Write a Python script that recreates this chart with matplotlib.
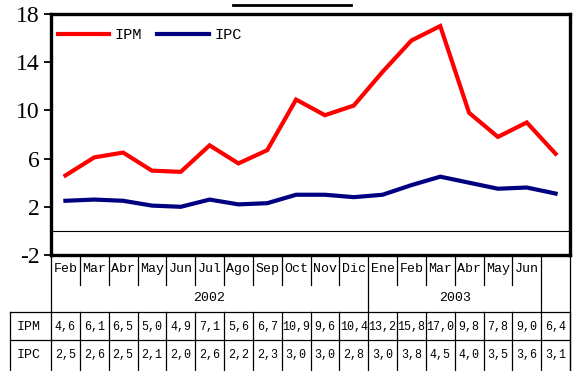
import matplotlib
matplotlib.use("Agg")
import matplotlib.pyplot as plt
from matplotlib.transforms import blended_transform_factory

# Monthly series, Feb 2002 - Jul 2003
months = ["Feb", "Mar", "Abr", "May", "Jun", "Jul", "Ago", "Sep", "Oct",
          "Nov", "Dic", "Ene", "Feb", "Mar", "Abr", "May", "Jun", ""]
years = ["2002", "2003"]
year_spans = [(0, 10), (11, 16)]          # first and last column index of each year
ipm = [4.6, 6.1, 6.5, 5.0, 4.9, 7.1, 5.6, 6.7, 10.9, 9.6, 10.4,
       13.2, 15.8, 17.0, 9.8, 7.8, 9.0, 6.4]
ipc = [2.5, 2.6, 2.5, 2.1, 2.0, 2.6, 2.2, 2.3, 3.0, 3.0, 2.8,
       3.0, 3.8, 4.5, 4.0, 3.5, 3.6, 3.1]
series_names = ["IPM", "IPC"]
y_ticks = [-2, 2, 6, 10, 14, 18]

W, H = 576, 371
fig = plt.figure(figsize=(W / 100, H / 100), dpi=100)

# overlay axes in pixel units for the table grid and stray rule
ov = fig.add_axes([0, 0, 1, 1])
ov.set_xlim(0, W)
ov.set_ylim(H, 0)
ov.axis("off")

left, right, top, bottom = 51, 570, 14, 255
ax = fig.add_axes([left / W, 1 - bottom / H, (right - left) / W, (bottom - top) / H])
ax.set_zorder(2)
ax.patch.set_alpha(0)

n = len(months)
x = list(range(n))
ax.plot(x, ipm, color="#ff0000", lw=3.0, solid_joinstyle="miter", label=series_names[0], zorder=3)
ax.plot(x, ipc, color="#000080", lw=3.0, solid_joinstyle="miter", label=series_names[1], zorder=3)
ax.axhline(0, color="black", lw=0.8, zorder=1)

ax.set_xlim(-0.5, n - 0.5)
ax.set_ylim(-2, 18)
ax.set_yticks(y_ticks)
ax.set_yticklabels([str(v) for v in y_ticks], family="Liberation Serif", fontsize=17)
ax.tick_params(axis="y", direction="out", length=5, width=1.3, pad=3)
ax.set_xticks([])
for s in ax.spines.values():
    s.set_linewidth(2.4)
    s.set_color("black")

leg = ax.legend(loc="upper left", bbox_to_anchor=(-0.008, 0.985), ncol=2, frameon=False,
                prop={"family": "Liberation Mono", "size": 11},
                handlelength=3.4, handletextpad=0.3, columnspacing=1.05,
                borderaxespad=0.3)

# data table under the chart, columns aligned with the categories
tr = blended_transform_factory(ax.transData, ov.transData)
mono = {"family": "Liberation Mono", "size": 9.5}
mono_val = {"family": "Liberation Mono", "size": 8.4}
lc = "black"
month_row, year_row, ipm_row, ipc_row = 269, 298, 327, 355
row_top, year_top, data_top, mid_line, tab_bottom = 256, 285, 312, 340, H

for i in range(n + 1):
    xb = i - 0.5
    if i in (0, 11, n - 1):
        ov.plot([xb, xb], [row_top, data_top], color=lc, lw=0.9, transform=tr, clip_on=False)
    elif i == n:
        ov.plot([xb, xb], [row_top, tab_bottom], color=lc, lw=0.9, transform=tr, clip_on=False)
    else:
        ov.plot([xb, xb], [row_top, year_top], color=lc, lw=0.9, transform=tr, clip_on=False)
    ov.plot([xb, xb], [data_top, tab_bottom], color=lc, lw=0.9, transform=tr, clip_on=False)

ov.plot([10, 10], [data_top, tab_bottom], color=lc, lw=0.9)
for yy in (data_top, mid_line):
    ov.plot([-0.5, n - 0.5], [yy, yy], color=lc, lw=0.9, transform=tr, clip_on=False)
    ov.plot([10, left], [yy, yy], color=lc, lw=0.9)

for i, m in enumerate(months):
    ov.text(i, month_row, m, transform=tr, ha="center", va="center", **mono)
    ov.text(i, ipm_row, f"{ipm[i]:.1f}".replace(".", ","), transform=tr,
            ha="center", va="center", **mono_val)
    ov.text(i, ipc_row, f"{ipc[i]:.1f}".replace(".", ","), transform=tr,
            ha="center", va="center", **mono_val)

for yr, (a, b) in zip(years, year_spans):
    ov.text((a + b) / 2, year_row, yr, transform=tr, ha="center", va="center", **mono)

ov.text(17, ipm_row, series_names[0], ha="left", va="center", **mono)
ov.text(17, ipc_row, series_names[1], ha="left", va="center", **mono)

# short rule above the plot frame
ov.plot([233, 351], [5, 5], color="black", lw=2.0)

fig.savefig("out.png", dpi=100)
